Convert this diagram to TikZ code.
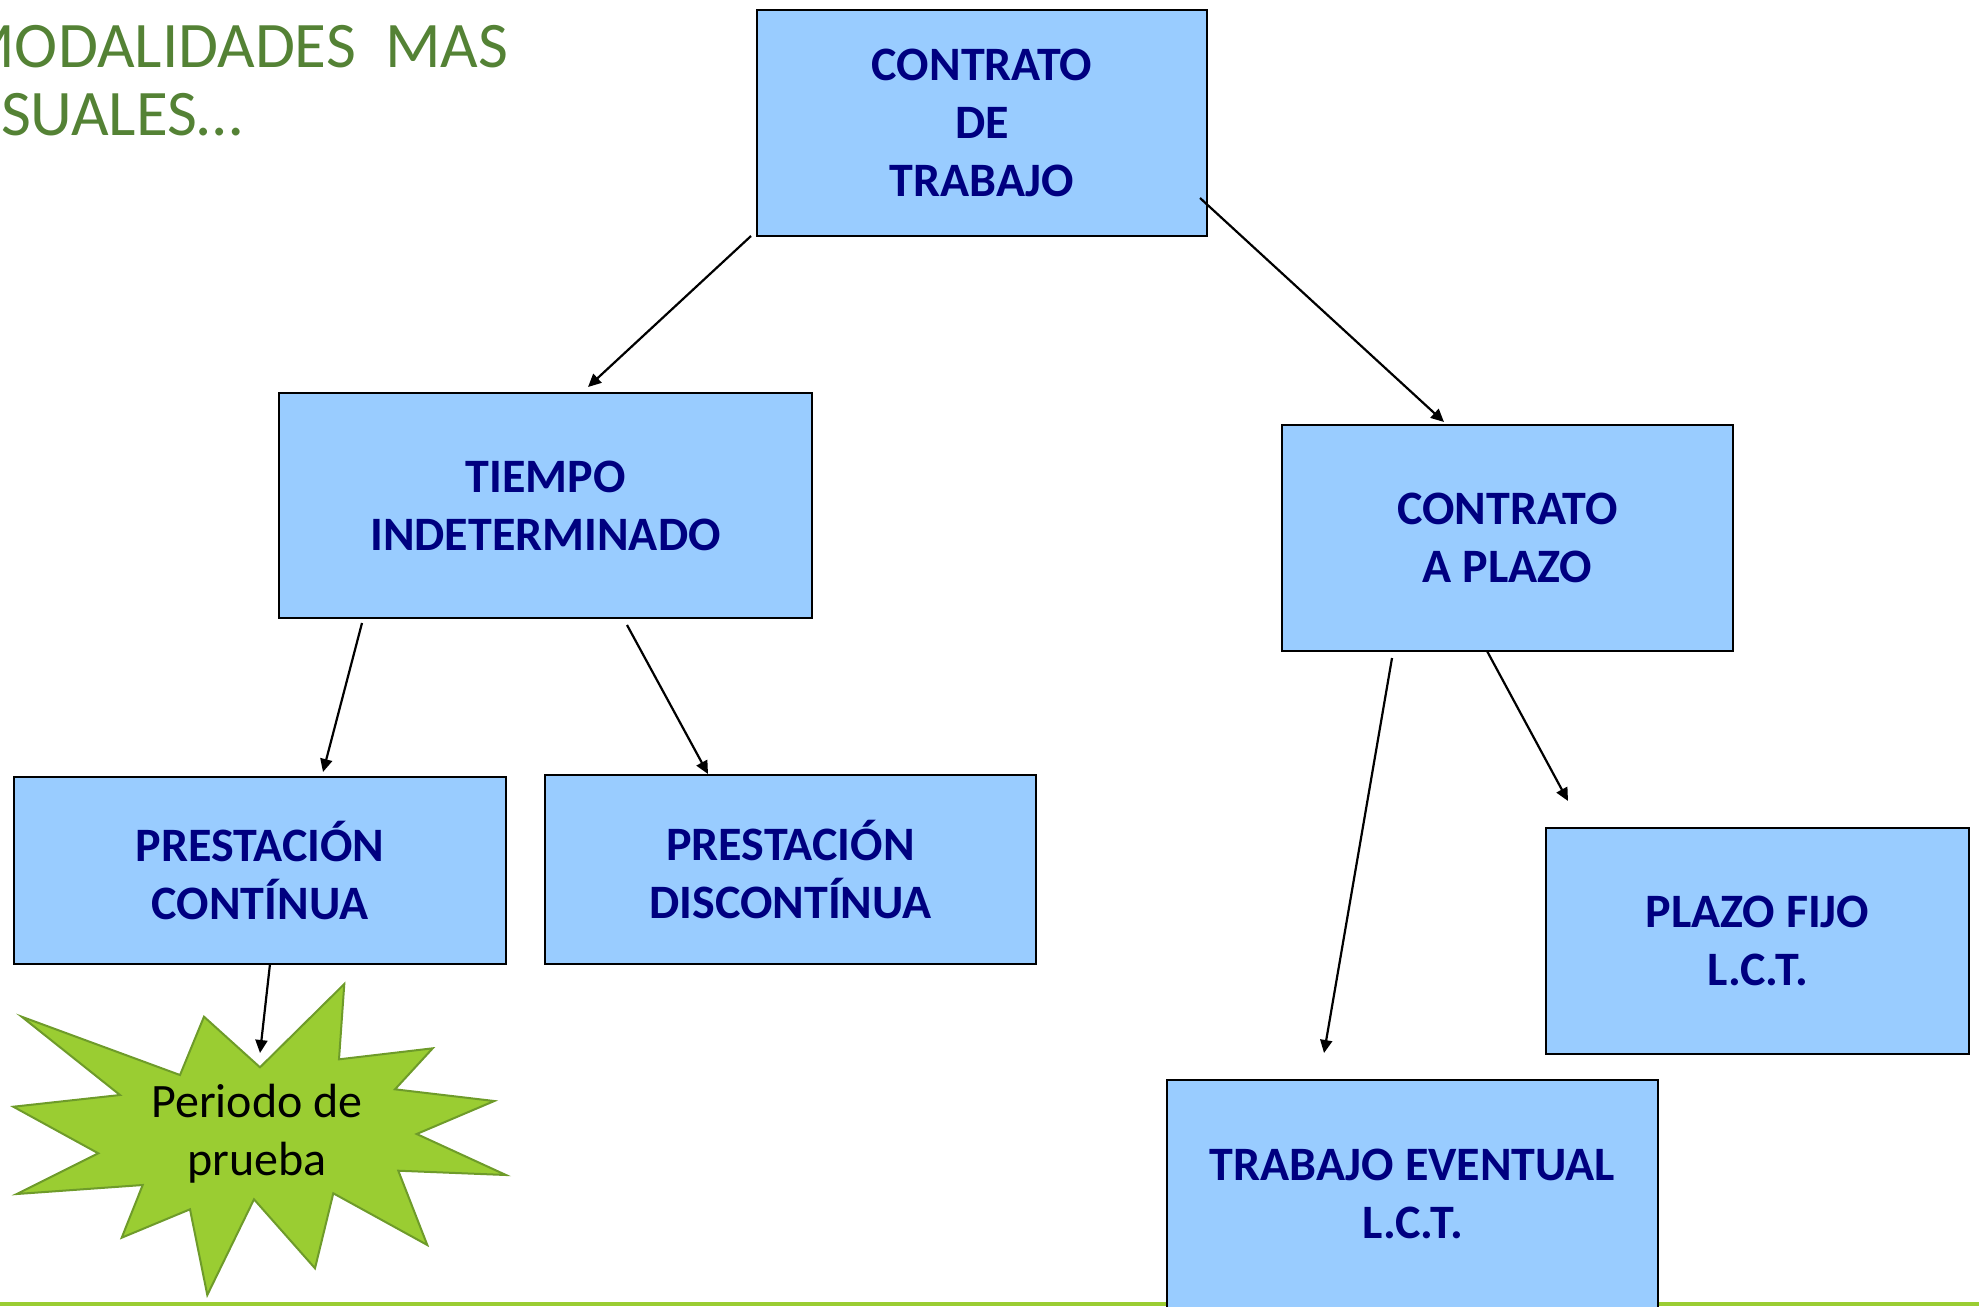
\documentclass[tikz,border=0pt]{standalone}
\usepackage{fontspec}
\setmainfont{Carlito}
\usetikzlibrary{arrows.meta,calc}
\definecolor{cajaazul}{HTML}{99CCFF}
\definecolor{textoazul}{HTML}{000080}
\definecolor{verdetitulo}{HTML}{548235}
\definecolor{verdeclaro}{HTML}{9ACD32}
\definecolor{verdeborde}{HTML}{6E9B2A}
\tikzset{
  caja/.style={draw,rectangle,fill=cajaazul,line width=1pt,inner sep=0pt,outer sep=0pt,align=center,text=textoazul,font=\fontsize{24}{29}\selectfont\bfseries},
  burst/.style={fill=verdeclaro,draw=verdeborde,line width=1pt,line join=miter},
  flecha/.style={-{Triangle[length=6.5pt,width=6pt]},line width=1.1pt},
  titulo/.style={align=left,inner sep=0pt,text=verdetitulo,font=\fontsize{32.5}{34}\selectfont}
}

\begin{document}
\begin{tikzpicture}[x=0.5pt,y=-0.5pt]
\useasboundingbox (0,0) rectangle (1979,1306);
\clip (0,0) rectangle (1979,1306);

\draw[verdeclaro,line width=2.2pt] (0,1304) -- (1979,1304);

\node[titulo,anchor=north west] (titulo) at (-41,25) {MODALIDADES~~MAS\\USUALES…};

\node[caja,minimum width=225pt,minimum height=113pt] (contrato) at (982,123) {CONTRATO\\DE\\TRABAJO};
\node[caja,minimum width=266.5pt,minimum height=112.5pt] (tiempo) at (545.5,505.5) {TIEMPO\\INDETERMINADO};
\node[caja,minimum width=225.5pt,minimum height=113pt] (plazo) at (1507.5,538) {CONTRATO\\A PLAZO};
\node[caja,minimum width=246pt,minimum height=93.5pt] (cont) at (260,870.5) {PRESTACIÓN\\CONTÍNUA};
\node[caja,minimum width=245.5pt,minimum height=94.5pt] (discont) at (790.5,869.5) {PRESTACIÓN\\DISCONTÍNUA};
\node[caja,minimum width=211.5pt,minimum height=113pt] (fijo) at (1757.5,941) {PLAZO FIJO\\L.C.T.};
\node[caja,minimum width=245.5pt,minimum height=114pt] (eventual) at (1412.5,1194) {TRABAJO EVENTUAL\\L.C.T.};

% explosion
\draw[burst] (21.7,1016.7) -- (180,1075) -- (204,1016.7) -- (260,1067.3) -- (344.3,984)
  -- (339,1059.3) -- (432.7,1048.3) -- (395,1089.3) -- (494.3,1101) -- (416.7,1134)
  -- (506,1175) -- (398.3,1170.7) -- (427.3,1245) -- (333.3,1193.3) -- (315,1268.3)
  -- (254,1199.3) -- (207.3,1295) -- (190,1209.3) -- (121.7,1237.7) -- (142.7,1185)
  -- (16.7,1194) -- (98.3,1153.3) -- (13.3,1106.7) -- (120,1095) -- cycle;
\node[align=center,inner sep=0pt,font=\fontsize{24}{29}\selectfont] (prueba) at (257,1134) {Periodo de\\prueba};

\draw[flecha] ($(contrato.south west)+(-6,0)$) -- ($(tiempo.north)+(42.5,-6)$);
\draw[flecha] ($(contrato.south east)+(-7,-38)$) -- ($(plazo.north)+(-63.5,-3)$);
\draw[flecha] ($(tiempo.south)+(-183.5,5)$) -- ($(cont.north)+(63,-5)$);
\draw[flecha] ($(tiempo.south)+(81.5,7)$) -- ($(discont.north)+(-82.5,-1)$);
\draw[flecha] ($(cont.south)+(10,0)$) -- ($(prueba.center)+(3,-81)$);
\draw[flecha] ($(plazo.south)+(-115.5,7)$) -- ($(eventual.north)+(-88.5,-27)$);
\draw[flecha] ($(plazo.south)+(-20.5,0)$) -- ($(fijo.north)+(-189.5,-27)$);

\end{tikzpicture}
\end{document}
